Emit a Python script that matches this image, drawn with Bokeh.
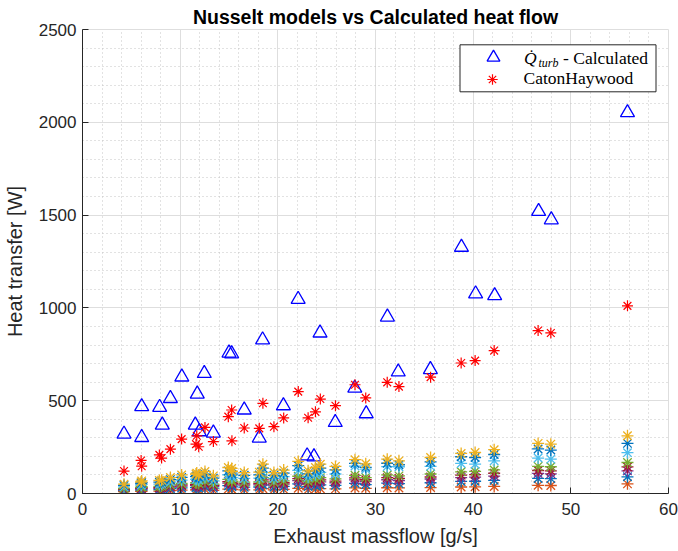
from bokeh.plotting import figure
from bokeh.models import Range1d, Legend, LegendItem, Label, SingleIntervalTicker, BoxAnnotation
from bokeh.embed import file_html
from bokeh.resources import INLINE

# ---------------- data ----------------
# Calculated turbine heat flow (blue triangles)
mflow_calc = [4.25, 6.06, 6.06, 7.9, 8.17, 9.0, 10.17, 11.55, 11.75, 11.96, 12.47, 13.4,
              15.0, 15.27, 16.56, 18.1, 18.44, 20.57, 22.08, 23.0, 23.7, 24.32, 25.88,
              27.88, 29.05, 31.22, 32.33, 35.62, 38.8, 40.25, 42.2, 46.7, 48.0, 55.8]
q_calc = [320, 302, 468, 464, 369, 512, 628, 369, 536, 333, 647, 326,
          757, 753, 450, 299, 828, 473, 1046, 203, 198, 865, 383,
          568, 430, 951, 655, 668, 1327, 1076, 1066, 1520, 1475, 2052]

# Nusselt-model operating points
mflow = [4.25, 6.0, 6.06, 7.87, 8.1, 9.0, 10.15, 11.62, 11.7, 11.9, 12.54, 13.4,
         14.93, 15.27, 15.3, 16.56, 18.1, 18.47, 19.6, 20.6, 22.09, 23.1, 23.85, 24.35,
         25.9, 27.9, 29.0, 31.2, 32.4, 35.64, 38.77, 40.2, 42.15, 46.65, 47.95, 55.8]
q_caton = [121, 178, 147, 208, 191, 239, 293, 266, 311, 252, 356, 280,
           414, 450, 284, 353, 351, 486, 360, 407, 549, 408, 440, 509,
           473, 586, 515, 599, 576, 627, 703, 716, 770, 878, 865, 1011]

# remaining models (not in legend), MATLAB colour order
q_m_yellow = [50, 62, 68, 70, 72, 86, 100, 105, 110, 100, 119, 95,
              140, 135, 120, 113, 115, 158, 113, 126, 173, 122, 140, 158,
              146, 182, 160, 185, 176, 194, 216, 221, 236, 270, 266, 311]
q_m_blue2 = [44, 54, 59, 61, 63, 75, 87, 91, 96, 87, 103, 83,
             122, 117, 104, 98, 100, 137, 98, 110, 150, 106, 122, 137,
             127, 162, 141, 163, 155, 170, 198, 194, 210, 240, 234, 270]
q_m_lblue = [36, 45, 49, 50, 52, 62, 72, 76, 79, 72, 86, 68,
             101, 97, 86, 81, 83, 114, 81, 91, 125, 88, 101, 114,
             105, 148, 131, 145, 144, 146, 162, 158, 176, 191, 185, 220]
q_m_green = [27, 33, 37, 38, 39, 46, 54, 57, 59, 54, 64, 51,
             76, 73, 65, 61, 62, 85, 61, 68, 93, 66, 76, 85,
             79, 98, 86, 100, 95, 105, 117, 119, 127, 146, 144, 167]
q_m_dred = [23, 29, 31, 32, 33, 40, 46, 48, 51, 46, 55, 44,
            64, 62, 55, 52, 53, 73, 52, 58, 80, 56, 64, 73,
            67, 84, 74, 85, 81, 89, 99, 102, 109, 124, 122, 143]
q_m_purple = [20, 25, 27, 28, 29, 34, 40, 42, 44, 40, 48, 38,
              56, 54, 48, 45, 46, 63, 45, 50, 69, 49, 56, 63,
              58, 73, 64, 74, 70, 78, 86, 88, 94, 108, 106, 122]
q_m_blue1 = [15, 19, 20, 21, 22, 26, 30, 32, 33, 30, 36, 29,
             42, 41, 36, 34, 35, 47, 34, 38, 52, 37, 42, 47,
             44, 55, 48, 56, 53, 58, 65, 66, 71, 81, 80, 90]
q_m_orange = [10, 12, 13, 13, 14, 16, 18, 19, 20, 18, 22, 17,
              24, 23, 21, 20, 20, 26, 20, 22, 28, 21, 24, 26,
              25, 30, 28, 31, 30, 32, 35, 36, 38, 44, 43, 52]

x_ticks_interval = 10
y_ticks_interval = 500
title_text = "Nusselt models vs Calculated heat flow"
x_label = "Exhaust massflow [g/s]"
y_label = "Heat transfer [W]"
legend_labels = ["\u00a0", "CatonHaywood"]
legend_q_parts = ["Q\u0307", "turb", "- Calculated"]

# ---------------- figure ----------------
AX = "#262626"
p = figure(width=678, height=551, output_backend="svg", toolbar_location=None,
           x_range=Range1d(0, 60), y_range=Range1d(0, 2500),
           title=title_text,
           min_border_left=82, min_border_right=10, min_border_top=29, min_border_bottom=58)
p.background_fill_color = "white"
p.border_fill_color = "white"
p.outline_line_color = "#dedede"

p.title.align = "center"
p.title.text_font = "Liberation Sans"
p.title.text_font_size = "19.5px"
p.title.text_font_style = "bold"
p.title.text_color = "black"
p.title.text_line_height = 1.0
p.title.standoff = 4

p.xaxis.ticker = SingleIntervalTicker(interval=x_ticks_interval, num_minor_ticks=5)
p.yaxis.ticker = SingleIntervalTicker(interval=y_ticks_interval, num_minor_ticks=5)
for ax in (p.xaxis[0], p.yaxis[0]):
    ax.axis_line_color = AX
    ax.major_tick_line_color = AX
    ax.major_tick_in = 6
    ax.major_tick_out = 0
    ax.minor_tick_in = 0
    ax.minor_tick_out = 0
    ax.major_label_text_font = "Liberation Sans"
    ax.major_label_text_font_size = "17px"
    ax.major_label_text_color = AX
    ax.axis_label_text_font = "Liberation Sans"
    ax.axis_label_text_font_size = "20px"
    ax.axis_label_text_font_style = "normal"
    ax.axis_label_text_color = AX
p.xaxis.axis_label = x_label
p.yaxis.axis_label = y_label
p.xaxis.major_label_standoff = 9
p.yaxis.major_label_standoff = 6
p.xaxis.axis_label_standoff = 7
p.yaxis.axis_label_standoff = 10

for g in (p.xgrid[0], p.ygrid[0]):
    g.grid_line_color = "#dedede"
    g.grid_line_width = 1
    g.minor_grid_line_color = "#c4c4c4"
    g.minor_grid_line_dash = "1 3"
    g.minor_grid_line_width = 1

# ---------------- glyphs ----------------
r_calc = p.scatter(mflow_calc, q_calc, marker="triangle", size=14, fill_color=None,
                   line_color="#0000ff", line_width=1.3)
r_caton = p.scatter(mflow, q_caton, marker="asterisk", size=11, line_color="#ff0000", line_width=1.2)

series = [
    (q_m_orange, "#D95319"),
    (q_m_blue1, "#0072BD"),
    (q_m_purple, "#7E2F8E"),
    (q_m_dred, "#A2142F"),
    (q_m_green, "#77AC30"),
    (q_m_lblue, "#4DBEEE"),
    (q_m_blue2, "#0072BD"),
    (q_m_yellow, "#EDB120"),
]
for vals, col in series:
    p.scatter(mflow, vals, marker="asterisk", size=12, line_color=col, line_width=1.3)

# ---------------- legend ----------------
# white legend box with dark border (screen units relative to the frame's bottom-left)
p.add_layout(BoxAnnotation(left=377.5, right=573.5, top=448.7, bottom=401.7,
                           left_units="screen", right_units="screen",
                           top_units="screen", bottom_units="screen",
                           fill_color="white", fill_alpha=1.0,
                           line_color=AX, line_width=1, line_alpha=1.0))

common = dict(padding=0, spacing=0, label_standoff=0, label_width=120,
              label_text_font="Liberation Serif", label_text_font_size="17.5px",
              label_text_color="black", border_line_color=None, background_fill_alpha=0.0)
legend_a = Legend(items=[LegendItem(label=legend_labels[0], renderers=[r_calc])],
                  location=(377.5, 420.0), glyph_width=66, glyph_height=32, label_height=32,
                  **common)
legend_b = Legend(items=[LegendItem(label=legend_labels[1], renderers=[r_caton])],
                  location=(377.5, 401.4), glyph_width=64, glyph_height=26, label_height=26,
                  **common)
p.add_layout(legend_a)
p.add_layout(legend_b)

row1_y = 436.0
p.add_layout(Label(x=441.5, y=row1_y, x_units="screen", y_units="screen", text=legend_q_parts[0],
                   text_font="Liberation Serif", text_font_style="italic", text_font_size="17.5px",
                   text_baseline="middle", text_align="left", text_color="black", level="overlay"))
p.add_layout(Label(x=456, y=row1_y - 5, x_units="screen", y_units="screen", text=legend_q_parts[1],
                   text_font="Liberation Serif", text_font_style="italic", text_font_size="12px",
                   text_baseline="middle", text_align="left", text_color="black", level="overlay"))
p.add_layout(Label(x=480.5, y=row1_y, x_units="screen", y_units="screen", text=legend_q_parts[2],
                   text_font="Liberation Serif", text_font_size="17.5px",
                   text_baseline="middle", text_align="left", text_color="black", level="overlay"))

open("out.html", "w").write(file_html(p, INLINE))
